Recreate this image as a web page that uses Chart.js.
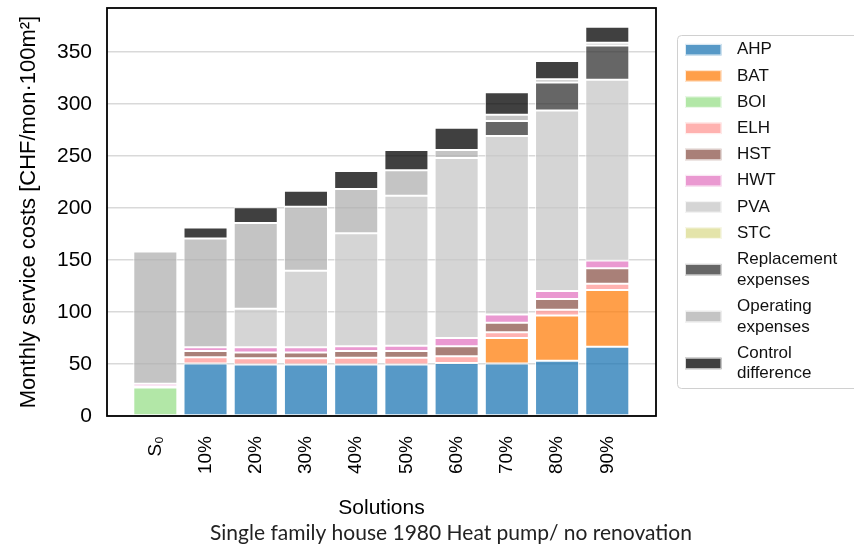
<!DOCTYPE html>
<html>
<head>
<meta charset="utf-8">
<script src="https://cdn.jsdelivr.net/npm/chart.js@4/dist/chart.umd.min.js"></script>
<style>
  html, body { margin: 0; padding: 0; background: #fff; }
</style>
</head>
<body>
<canvas id="costChart" width="854" height="545"></canvas>
<script>
// Solutions (x categories)
const categories = ['S₀', '10%', '20%', '30%', '40%', '50%', '60%', '70%', '80%', '90%'];

// Monthly service costs per component [CHF/mon·100m²]
const AHP = [0, 50.5, 49.5, 49.5, 49.5, 49.5, 51, 50.5, 53, 66.5];
const BAT = [0, 0, 0, 0, 0, 0, 0, 24.5, 43.5, 54.5];
const BOI = [27.5, 0, 0, 0, 0, 0, 0, 0, 0, 0];
const ELH = [1, 6, 6, 6, 6.5, 6.5, 6.5, 5.5, 5.5, 6];
const HST = [0, 6, 5.5, 5.5, 6.5, 6.5, 9.5, 9, 10.5, 15];
const HWT = [2.5, 3.5, 5, 5, 4.5, 5, 8, 8, 7.5, 7.5];
const PVA = [0, 0, 37, 73.5, 108.5, 144, 173, 171.5, 173.5, 173.5];
const STC = [0, 0, 0, 0, 0, 0, 0, 0, 0, 0];
const replacementExpenses = [0, 0, 0, 0, 0, 0, 0, 14.5, 27, 33];
const operatingExpenses = [127, 104.5, 82.5, 61.5, 42.5, 24.5, 7.5, 6, 3, 2.5];
const controlDifference = [0, 10.5, 15, 15.5, 17.5, 19.5, 21.5, 21.5, 17.5, 15.5];

// y axis tick values
const yTickValues = [0, 50, 100, 150, 200, 250, 300, 350];

const subtitleText = 'Single family house 1980 Heat pump/ no renovation';
const FONT = "'Liberation Sans', Arial, Helvetica, sans-serif";

const seriesDefs = [
  ['AHP', AHP, 'rgba(31,119,180,0.75)'],
  ['BAT', BAT, 'rgba(255,127,14,0.75)'],
  ['BOI', BOI, 'rgba(152,223,138,0.75)'],
  ['ELH', ELH, 'rgba(255,152,150,0.75)'],
  ['HST', HST, 'rgba(140,86,75,0.75)'],
  ['HWT', HWT, 'rgba(227,119,194,0.75)'],
  ['PVA', PVA, 'rgba(199,199,199,0.75)'],
  ['STC', STC, 'rgba(219,219,141,0.75)'],
  ['Replacement\nexpenses', replacementExpenses, 'rgba(51,51,51,0.75)'],
  ['Operating\nexpenses', operatingExpenses, 'rgba(176,176,176,0.75)'],
  ['Control\ndifference', controlDifference, 'rgba(0,0,0,0.75)']
];

const datasets = seriesDefs.map(([label, values, color]) => ({
  label,
  data: values.map((v, i) => ({ x: i, y: v })),
  backgroundColor: color
}));

// Plot frame, side legend and bottom caption
const framePlugin = {
  id: 'frame',
  afterDraw(chart) {
    const { ctx, chartArea: a } = chart;
    ctx.save();
    ctx.strokeStyle = '#000';
    ctx.lineWidth = 1.8;
    ctx.strokeRect(a.left, a.top, a.right - a.left, a.bottom - a.top);
    ctx.restore();
  }
};

const sideLegendPlugin = {
  id: 'sideLegend',
  afterDraw(chart) {
    const ctx = chart.ctx;
    ctx.save();
    const bx = 677.5, by = 35.5, bw = 200, bh = 353, r = 4;
    ctx.beginPath();
    ctx.moveTo(bx + r, by);
    ctx.lineTo(bx + bw, by);
    ctx.lineTo(bx + bw, by + bh);
    ctx.lineTo(bx + r, by + bh);
    ctx.arcTo(bx, by + bh, bx, by + bh - r, r);
    ctx.lineTo(bx, by + r);
    ctx.arcTo(bx, by, bx + r, by, r);
    ctx.closePath();
    ctx.fillStyle = '#fff';
    ctx.fill();
    ctx.strokeStyle = '#d0d0d0';
    ctx.lineWidth = 1;
    ctx.stroke();

    ctx.font = '17px ' + FONT;
    ctx.textBaseline = 'middle';
    ctx.textAlign = 'left';
    const lineH = 20.7, step = 26.2;
    let y = 49.7;
    chart.data.datasets.forEach(ds => {
      const lines = ds.label.split('\n');
      const span = (lines.length - 1) * lineH;
      const cy = y + span / 2;
      ctx.fillStyle = ds.backgroundColor;
      ctx.fillRect(685, cy - 5.75, 36.5, 11.5);
      ctx.strokeStyle = 'rgba(255,255,255,0.8)';
      ctx.lineWidth = 1;
      ctx.strokeRect(685.5, cy - 5.25, 35.5, 10.5);
      ctx.fillStyle = '#111';
      lines.forEach((t, i) => ctx.fillText(t, 737, y + i * lineH));
      y += span + step;
    });
    ctx.restore();
  }
};

const captionPlugin = {
  id: 'caption',
  afterDraw(chart) {
    const ctx = chart.ctx;
    ctx.save();
    ctx.font = "21px Lato, 'Open Sans', sans-serif";
    ctx.fillStyle = '#222';
    ctx.textAlign = 'left';
    ctx.textBaseline = 'middle';
    ctx.fillText(subtitleText, 210, 533);
    ctx.restore();
  }
};

new Chart(document.getElementById('costChart'), {
  type: 'bar',
  data: { datasets },
  plugins: [framePlugin, sideLegendPlugin, captionPlugin],
  options: {
    responsive: false,
    animation: false,
    devicePixelRatio: 1,
    layout: { padding: { left: 0, right: 198, top: 8, bottom: 24 } },
    plugins: { legend: { display: false }, tooltip: { enabled: false } },
    datasets: {
      bar: {
        barPercentage: 0.877,
        categoryPercentage: 1,
        borderWidth: 1,
        borderColor: 'rgba(255,255,255,0.8)',
        borderSkipped: false
      }
    },
    scales: {
      x: {
        type: 'linear',
        stacked: true,
        offset: false,
        min: -0.962,
        max: 9.97,
        grid: { display: false },
        border: { display: false },
        afterBuildTicks: axis => { axis.ticks = categories.map((_, i) => ({ value: i })); },
        afterFit: s => { s.height = 105; s.paddingLeft = 0; s.paddingRight = 0; },
        ticks: {
          autoSkip: false,
          minRotation: 90,
          maxRotation: 90,
          padding: 12,
          color: '#000',
          font: { family: FONT, size: 19 },
          callback: v => categories[v]
        },
        title: {
          display: true,
          text: 'Solutions',
          color: '#000',
          font: { family: FONT, size: 21 },
          padding: { top: 0, bottom: 0 }
        }
      },
      y: {
        stacked: true,
        min: 0,
        max: 392,
        z: 1,
        border: { display: false },
        afterBuildTicks: axis => { axis.ticks = yTickValues.map(v => ({ value: v })); },
        afterFit: s => { s.width = 107; s.paddingTop = 0; s.paddingBottom = 0; },
        grid: { color: 'rgba(170,170,170,0.45)', lineWidth: 1.5, drawTicks: false },
        ticks: { padding: 15, color: '#000', font: { family: FONT, size: 21 } },
        title: {
          display: true,
          text: 'Monthly service costs [CHF/mon·100m²]',
          color: '#000',
          font: { family: FONT, size: 22 },
          padding: { top: 16, bottom: 0 }
        }
      }
    }
  }
});
</script>
</body>
</html>
